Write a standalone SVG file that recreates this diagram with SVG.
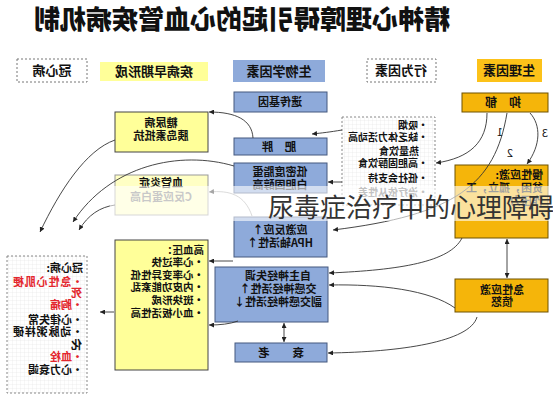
<svg xmlns="http://www.w3.org/2000/svg" width="553" height="400" viewBox="0 0 553 400">
<style>
text{font-family:"Noto Sans CJK SC","Noto Sans",sans-serif;font-weight:700;fill:#111}
.c{text-anchor:middle;font-size:11px}
.l{text-anchor:start;font-size:11px}
.h{text-anchor:middle;font-size:13px}
.red{fill:#e3262d}
.blue{fill:#8eaada;stroke:#44597f;stroke-width:1}
.gold{fill:#f5b50a;stroke:#6f5200;stroke-width:1}
.yel{fill:#ffff99;stroke:#444;stroke-width:1}
.dash{fill:#fff;stroke:#777;stroke-width:1;stroke-dasharray:2 2}
.grid{fill:url(#grid);stroke:#888;stroke-width:1;stroke-dasharray:2 2}
.con path,.con line{fill:none;stroke:#333;stroke-width:0.9}
</style>
<defs>
<pattern id="grid" width="4" height="4" patternUnits="userSpaceOnUse">
<rect width="4" height="4" fill="#fff"/>
<path d="M4 0H0V4" fill="none" stroke="#e2e2e2" stroke-width="0.6"/>
</pattern>
<marker id="a" viewBox="0 0 6 6" refX="6" refY="3" markerWidth="5" markerHeight="5" markerUnits="userSpaceOnUse" orient="auto-start-reverse">
<path d="M0 0L6 3L0 6z" fill="#222"/>
</marker>
</defs>
<rect width="553" height="400" fill="#fff"/>

<g id="title"><text x="-242" y="29" transform="scale(-1 1)" style="text-anchor:middle;font-size:26px;font-weight:900">精神心理障碍引起的心血管疾病机制</text></g>

<g id="hdr-chd"><rect x="17" y="59" width="70" height="23" class="dash"/><text x="-52" y="75" transform="scale(-1 1)" class="h">冠心病</text></g>
<g id="hdr-early"><rect x="100" y="62" width="108" height="19" fill="#ffff99"/><text x="-154" y="76" transform="scale(-1 1)" class="h">疾病早期形成</text></g>
<g id="hdr-bio"><rect x="233" y="60" width="92" height="22" fill="#8eaada"/><text x="-279" y="76" transform="scale(-1 1)" class="h">生物学因素</text></g>
<g id="hdr-beh"><rect x="367" y="59" width="69" height="23" class="dash"/><text x="-401" y="75" transform="scale(-1 1)" class="h">行为因素</text></g>
<g id="hdr-phy"><rect x="477" y="59" width="65" height="23" fill="#fcc219"/><text x="-509" y="75" transform="scale(-1 1)" class="h">生理因素</text></g>

<g id="gene"><rect x="234" y="92" width="93" height="20" class="blue"/><text x="-280" y="106" transform="scale(-1 1)" class="c">遗传基因</text></g>
<g id="obesity"><rect x="234" y="138" width="93" height="17" class="blue"/><text x="-279" y="151" transform="scale(-1 1)" class="c" style="font-size:11.5px">肥　胖</text></g>
<g id="ldl"><rect x="234" y="163" width="93" height="30" class="blue"/><text x="-280" y="176" transform="scale(-1 1)" class="c">低密度脂蛋</text><text x="-280" y="189" transform="scale(-1 1)" class="c">白胆固醇高</text></g>
<g id="hpa"><rect x="234" y="217" width="93" height="40" class="blue"/><text x="-280" y="234" transform="scale(-1 1)" class="c">应激反应↑</text><text x="-280" y="247" transform="scale(-1 1)" class="c">HPA轴活性↑</text></g>
<g id="ans"><rect x="215" y="267" width="113" height="55" class="blue"/><text x="-278" y="280" transform="scale(-1 1)" class="c">自主神经失调</text><text x="-278" y="293" transform="scale(-1 1)" class="c">交感神经活性↑</text><text x="-278" y="306" transform="scale(-1 1)" class="c">副交感神经活性↓</text></g>
<g id="aging"><rect x="235" y="343" width="92" height="19" class="blue"/><text x="-281" y="357" transform="scale(-1 1)" class="c" style="font-size:11.5px">衰　　老</text></g>

<g id="diabetes"><rect x="115" y="112" width="93" height="40" class="yel"/><text x="-161" y="127" transform="scale(-1 1)" class="c">糖尿病</text><text x="-161" y="140" transform="scale(-1 1)" class="c">胰岛素抵抗</text></g>
<g id="inflam"><rect x="115" y="175" width="93" height="40" fill="#ffffc4" stroke="#999"/><text x="-161" y="187" transform="scale(-1 1)" class="c">血管炎症</text><text x="-161" y="201" transform="scale(-1 1)" class="c" style="fill:#777">C反应蛋白高</text></g>
<g id="htn"><rect x="115" y="240" width="93" height="130" class="yel"/>
<text x="-204" y="254" transform="scale(-1 1)" class="l" style="font-size:10.5px">高血压：</text>
<text x="-204" y="266" transform="scale(-1 1)" class="l" style="font-size:10.5px">•心率过快</text>
<text x="-204" y="279" transform="scale(-1 1)" class="l" style="font-size:10.5px">•心率变异性低</text>
<text x="-204" y="291" transform="scale(-1 1)" class="l" style="font-size:10.5px">•内皮功能紊乱</text>
<text x="-204" y="304" transform="scale(-1 1)" class="l" style="font-size:10.5px">•斑块形成</text>
<text x="-204" y="317" transform="scale(-1 1)" class="l" style="font-size:10.5px">•血小板活性高</text></g>

<g id="chd"><rect x="7" y="256" width="80" height="137" class="grid"/>
<text x="-83" y="272" transform="scale(-1 1)" class="l">冠心病:</text>
<text x="-83" y="286" transform="scale(-1 1)" class="l red" textLength="70" lengthAdjust="spacing">•急性心肌梗</text>
<text x="-82" y="297" transform="scale(-1 1)" class="l red">死</text>
<text x="-83" y="309" transform="scale(-1 1)" class="l red">•胸痛</text>
<text x="-83" y="324" transform="scale(-1 1)" class="l">•心律失常</text>
<text x="-83" y="336" transform="scale(-1 1)" class="l" textLength="70" lengthAdjust="spacing">•动脉粥样硬</text>
<text x="-82" y="349" transform="scale(-1 1)" class="l">化</text>
<text x="-83" y="361" transform="scale(-1 1)" class="l red">•血栓</text>
<text x="-83" y="374" transform="scale(-1 1)" class="l">•心力衰竭</text></g>

<g id="behavior"><rect x="342" y="117" width="93" height="88" class="grid"/>
<text x="-428" y="129" transform="scale(-1 1)" class="l" style="font-size:10px">•吸烟</text>
<text x="-428" y="141" transform="scale(-1 1)" class="l" style="font-size:10px">•缺乏体力活动高</text>
<text x="-419" y="155" transform="scale(-1 1)" class="l" style="font-size:10px">热量饮食</text>
<text x="-428" y="167" transform="scale(-1 1)" class="l" style="font-size:10px">•高胆固醇饮食</text>
<text x="-428" y="182" transform="scale(-1 1)" class="l" style="font-size:10px">•低社会支持</text>
<text x="-428" y="196" transform="scale(-1 1)" class="l" style="font-size:10px;fill:#666">•治疗依从性差</text></g>

<g id="depression"><rect x="462" y="93" width="86" height="19" class="gold"/><text x="-503" y="107" transform="scale(-1 1)" class="c" style="font-size:12px">抑　郁</text></g>
<g id="chronic"><rect x="455" y="165" width="93" height="73" class="gold"/>
<text x="-543" y="179" transform="scale(-1 1)" class="l">慢性应激:</text>
<text x="-543" y="192" transform="scale(-1 1)" class="l">贫困，孤立，工</text>
<text x="-543" y="205" transform="scale(-1 1)" class="l">作压力</text></g>
<g id="acute"><rect x="455" y="279" width="93" height="33" class="gold"/><text x="-502" y="294" transform="scale(-1 1)" class="c">急性应激</text><text x="-502" y="306" transform="scale(-1 1)" class="c">愤怒</text></g>

<g id="connectors" class="con">
<path d="M487,113 C487,142 470,158 436,163" marker-end="url(#a)"/>
<path d="M507,113 C495,185 455,215 333,230" marker-end="url(#a)"/>
<path d="M530,113 C541,125 541,145 527,164" marker-end="url(#a)"/>
<path d="M342,130 C330,132 322,133 312,134" marker-end="url(#a)"/>
<path d="M253,138 C252,120 236,112 209,112" marker-end="url(#a)"/>
<path d="M342,182 L328,182" marker-end="url(#a)"/>
<path d="M115,140 C86,150 60,190 40,232" marker-end="url(#a)"/>
<path d="M234,166 C180,150 110,165 73,222" marker-end="url(#a)"/>
<path d="M115,205 C100,207 88,215 79,230" marker-end="url(#a)"/>
<path d="M252,216 C245,195 230,190 209,192" marker-end="url(#a)" style="stroke:#999"/>
<path d="M462,238 C450,262 400,270 329,273" marker-end="url(#a)"/>
<path d="M455,308 C430,290 380,284 329,285" marker-end="url(#a)"/>
<path d="M477,317 C470,342 400,352 328,353" marker-end="url(#a)"/>
<path d="M233,261 L209,261" marker-end="url(#a)"/>
<path d="M238,321 C230,324 220,325 209,325" marker-end="url(#a)"/>
<path d="M114,312 L100,312" marker-end="url(#a)"/>
<line x1="284" y1="323" x2="284" y2="342" marker-start="url(#a)" marker-end="url(#a)"/>
<line x1="507" y1="239" x2="507" y2="278" marker-start="url(#a)" marker-end="url(#a)"/>
</g>
<g id="labels">
<text x="-500" y="136" transform="scale(-1 1)" class="c" style="font-weight:400">1</text>
<text x="-510" y="157" transform="scale(-1 1)" class="c" style="font-weight:400">2</text>
<text x="-545" y="137" transform="scale(-1 1)" class="c" style="font-weight:400">3</text>
</g>

<g id="overlay">
<rect x="110" y="186" width="443" height="35" fill="#fff" opacity="0.6"/>
<text x="268" y="217" style="font-size:26px;font-weight:400;fill:#333">尿毒症治疗中的心理障碍</text>
</g>
</svg>
